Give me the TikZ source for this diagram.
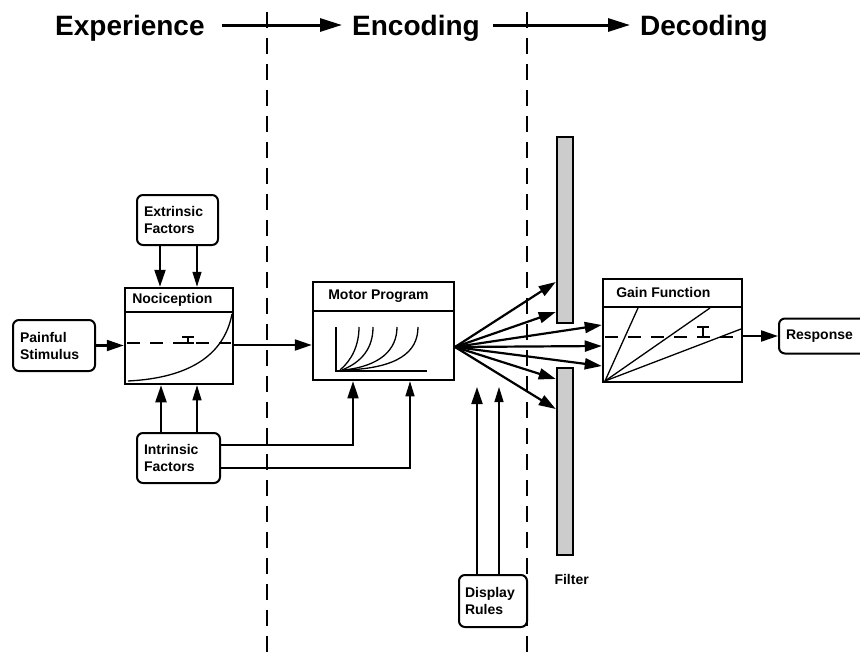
\documentclass[tikz,border=0pt]{standalone}
\usepackage{fontspec}
\setmainfont{Liberation Sans}
\usetikzlibrary{arrows.meta,calc}
\begin{document}
\begin{tikzpicture}[x=1pt,y=-1pt,
  lab/.style={font=\fontsize{14}{17}\selectfont\bfseries},
  title/.style={font=\fontsize{28}{30}\selectfont\bfseries,inner sep=0pt,anchor=base west},
  rbox/.style={draw,line width=2pt,rounded corners=6pt,align=left,inner ysep=0pt,lab},
  sbox/.style={draw,line width=2.5pt,inner sep=0pt},
  arr/.style={line width=2.2pt,-{Triangle[length=17pt,width=11pt]}},
  arrthin/.style={line width=1.3pt,-{Triangle[length=15pt,width=9pt]}},
  bigarr/.style={line width=3pt,-{Triangle[length=22pt,width=13pt]}},
  divider/.style={line width=2.5pt},
  sepline/.style={line width=1.2pt,dash pattern=on 16pt off 10pt},
  plotdash/.style={line width=1.3pt,dash pattern=on 13pt off 10pt},
  curve/.style={line width=1.3pt},
  filterbar/.style={draw,line width=2.5pt,fill=gray!40}
]
\useasboundingbox (0,0) rectangle (860,656);
\clip (0,0) rectangle (860,656);

% titles
\node[title] (expn) at (55,35) {Experience};
\node[title] (encn) at (352,35) {Encoding};
\node[title] (decn) at (640,35) {Decoding};
\draw[bigarr] ($(expn.base east)+(17,-10)$) -- ($(encn.base west)+(-10,-10)$);
\draw[bigarr] ($(encn.base east)+(13,-10)$) -- ($(decn.base west)+(-10,-10)$);

% separators
\coordinate (s1t) at (267,12); \coordinate (s1b) at (267,656);
\coordinate (s2t) at (527,12); \coordinate (s2b) at (527,656);
\draw[sepline] (s1t) -- (s1b);
\draw[sepline] (s2t) -- (s2b);

% rounded boxes
\node[rbox,minimum height=51pt,text width=68pt,inner xsep=7pt] (stim) at (54,345.5) {Painful\\Stimulus};
\node[rbox,minimum height=50pt,text width=67pt,inner xsep=7pt] (extr) at (177.5,220) {Extrinsic\\Factors};
\node[rbox,minimum height=50pt,text width=69pt,inner xsep=7pt] (intr) at (178.5,458) {Intrinsic\\Factors};
\node[rbox,minimum height=52pt,text width=56pt,inner xsep=6pt] (disp) at (493,601) {Display\\Rules};
\node[rbox,minimum height=35pt,text width=82pt,inner xsep=7pt] (resp) at (827,336) {Response};

% square boxes
\node[sbox,minimum width=108pt,minimum height=96pt] (noci) at (179,336) {};
\node[sbox,minimum width=141pt,minimum height=98pt] (motor) at (383.5,331) {};
\node[sbox,minimum width=139pt,minimum height=103pt] (gain) at (672.5,330.5) {};
\draw[divider] ($(noci.north west)+(0,25)$) -- ($(noci.north east)+(0,25)$);
\draw[divider] ($(motor.north west)+(0,30)$) -- ($(motor.north east)+(0,30)$);
\draw[divider] ($(gain.north west)+(0,29)$) -- ($(gain.north east)+(0,29)$);
\node[lab,anchor=west] (nocit) at ($(noci.north west)+(5,13)$) {Nociception};
\node[lab,anchor=west] (motort) at ($(motor.north west)+(13,15)$) {Motor Program};
\node[lab,anchor=west] (gaint) at ($(gain.north west)+(11,15)$) {Gain Function};

% filters
\node[filterbar,minimum width=16pt,minimum height=186pt,inner sep=0pt] (fup) at (565,230) {};
\node[filterbar,minimum width=16pt,minimum height=187pt,inner sep=0pt] (flo) at (565,461.5) {};
\node[lab,anchor=west] (filt) at (551,579) {Filter};

% nociception plot
\draw[plotdash] (127,343) -- (231,343);
\draw[line width=1.3pt] (182,337) -- (194,337) (188,337) -- (188,343) (182,343) -- (194,343);
\draw[curve] (128,381) .. controls (188,378) and (224,356) .. (232,314);

% motor program plot
\draw[line width=1.5pt] (336,327) -- (336,371) -- (427,371);
\draw[curve] (340,370) .. controls (352,360) and (359,345) .. (359,327);
\draw[curve] (342,370) .. controls (362,362) and (373,348) .. (373,327);
\draw[curve] (344,370) .. controls (380,366) and (397,350) .. (397,327);
\draw[curve] (346,370) .. controls (398,368) and (418,352) .. (418,327);

% gain plot
\coordinate (go) at (605,381);
\draw[plotdash] (605,337) -- (741,337);
\draw[line width=1.3pt] (697,327) -- (709,327) (703,327) -- (703,337) (697,337) -- (709,337);
\draw[curve] (go) -- (638,308);
\draw[curve] (go) -- (710,308);
\draw[curve] (go) -- (741,329);

% flow arrows
\draw[arr] (stim.east) -- (stim.east -| noci.west);
\draw[arr] ($(noci.east)+(0,9)$) -- ($(noci.east -| motor.west)+(0,9)$);
\draw[arr] (resp.west -| gain.east) -- (resp.west);

% extrinsic / intrinsic to nociception
\draw[arr] (extr.south -| 160,0) -- (noci.north -| 160,0);
\draw[arrthin] (extr.south -| 197,0) -- (noci.north -| 197,0);
\draw[arr] (intr.north -| 161,0) -- (noci.south -| 161,0);
\draw[arrthin] (intr.north -| 197,0) -- (noci.south -| 197,0);

% intrinsic to motor program
\draw[line width=1.5pt,-{Triangle[length=17pt,width=11pt]}] ($(intr.east)+(0,-13)$) -| (motor.south -| 353,0);
\draw[line width=1.2pt,-{Triangle[length=15pt,width=9pt]}] ($(intr.east)+(0,10)$) -| (motor.south -| 410,0);

% display rules
\draw[arr] (disp.north -| 477,0) -- (477,387);
\draw[arrthin] (disp.north -| 499,0) -- (499,387);

% fan
\coordinate (fan) at (455,347);
\draw[arr] (fan) -- (fup.west |- 0,282);
\draw[arr] (fan) -- (fup.west |- 0,312);
\draw[arr] (fan) -- (gain.west |- 0,325);
\draw[arr] (fan) -- (gain.west |- 0,346);
\draw[arr] (fan) -- (gain.west |- 0,366);
\draw[arr] (fan) -- (flo.west |- 0,379);
\draw[arr] (fan) -- (flo.west |- 0,409);
\end{tikzpicture}
\end{document}
